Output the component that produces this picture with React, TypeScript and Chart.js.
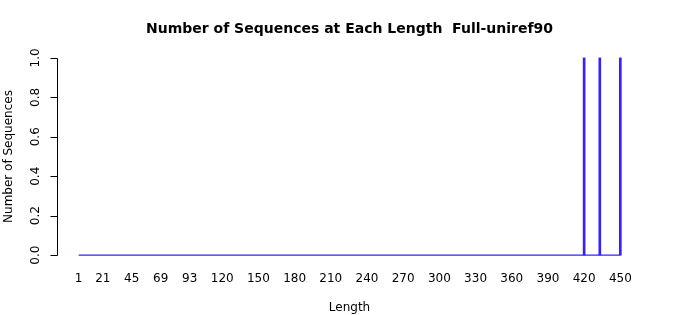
import React, { useEffect, useRef } from "react";
import { Chart, registerables } from "chart.js";

Chart.register(...registerables);

const title = "Number of Sequences at Each Length  Full-uniref90";
const xTitle = "Length";
const yTitle = "Number of Sequences";
const lengths = [420, 433, 450];
const counts = [1, 1, 1];
const lengthRange = [1, 450];
const xTickLabels = [1, 21, 45, 69, 93, 120, 150, 180, 210, 240, 270, 300, 330, 360, 390, 420, 450];
const yTickLabels = [0, 0.2, 0.4, 0.6, 0.8, 1.0];

const LINE = "#3322ff";
const FONT = "DejaVu Sans, sans-serif";

const decorPlugin = {
  id: "decor",
  afterDraw(chart: any) {
    const ctx = chart.ctx as CanvasRenderingContext2D;
    const xs = chart.scales.x;
    const ys = chart.scales.y;
    const area = chart.chartArea;
    ctx.save();
    ctx.fillStyle = "#000";
    ctx.strokeStyle = "#000";
    ctx.lineWidth = 1;
    // title
    ctx.font = `bold 14px ${FONT}`;
    ctx.textAlign = "center";
    ctx.textBaseline = "middle";
    ctx.fillText(title, (area.left + area.right) / 2, 29);
    // y axis line & ticks
    const y0 = ys.getPixelForValue(yTickLabels[0]);
    const y1 = ys.getPixelForValue(yTickLabels[yTickLabels.length - 1]);
    const ax = Math.round(area.left) + 0.5;
    ctx.beginPath();
    ctx.moveTo(ax, Math.round(y0) + 0.5);
    ctx.lineTo(ax, Math.round(y1) + 0.5);
    yTickLabels.forEach((v) => {
      const py = Math.round(ys.getPixelForValue(v)) + 0.5;
      ctx.moveTo(ax, py);
      ctx.lineTo(ax - 7, py);
    });
    ctx.stroke();
    // y tick labels rotated
    ctx.font = `12px ${FONT}`;
    yTickLabels.forEach((v) => {
      const py = ys.getPixelForValue(v);
      ctx.save();
      ctx.translate(36, py);
      ctx.rotate(-Math.PI / 2);
      ctx.textAlign = "center";
      ctx.textBaseline = "middle";
      ctx.fillText(v.toFixed(1), 0, 0);
      ctx.restore();
    });
    // x tick labels
    ctx.textAlign = "center";
    ctx.textBaseline = "middle";
    xTickLabels.forEach((v) => {
      ctx.fillText(String(v), xs.getPixelForValue(v), 279);
    });
    // axis titles
    ctx.fillText(xTitle, (area.left + area.right) / 2, 308);
    ctx.save();
    ctx.translate(9, (y0 + y1) / 2);
    ctx.rotate(-Math.PI / 2);
    ctx.fillText(yTitle, 0, 0);
    ctx.restore();
    ctx.restore();
  },
};

export default function App() {
  const ref = useRef<HTMLCanvasElement>(null);
  useEffect(() => {
    if (!ref.current) return;
    const xmin = lengthRange[0] - (lengthRange[1] - lengthRange[0]) * 0.04;
    const xmax = lengthRange[1] + (lengthRange[1] - lengthRange[0]) * 0.04;
    const chart = new Chart(ref.current, {
      type: "bar",
      data: {
        datasets: [
          {
            type: "line",
            data: lengthRange.map((x) => ({ x, y: 0 })),
            borderColor: LINE,
            borderWidth: 1.2,
            pointRadius: 0,
            order: 2,
          } as any,
          {
            type: "bar",
            data: lengths.map((x, i) => ({ x, y: counts[i] })),
            backgroundColor: LINE,
            borderWidth: 0,
            barThickness: 2,
            order: 1,
          } as any,
        ],
      },
      options: {
        animation: false,
        responsive: false,
        maintainAspectRatio: false,
        layout: { padding: { left: 57, right: 58, top: 50, bottom: 52 } },
        plugins: { legend: { display: false }, tooltip: { enabled: false }, title: { display: false } },
        scales: {
          x: { type: "linear", min: xmin, max: xmax, display: false, offset: false },
          y: { type: "linear", min: -0.04, max: 1.04, display: false },
        },
      },
      plugins: [decorPlugin],
    });
    return () => chart.destroy();
  }, []);
  return (
    <div style={{ position: "fixed", left: 0, top: 0, width: 700, height: 315, background: "#fff" }}>
      <canvas ref={ref} width={700} height={315} style={{ width: 700, height: 315 }} />
    </div>
  );
}
